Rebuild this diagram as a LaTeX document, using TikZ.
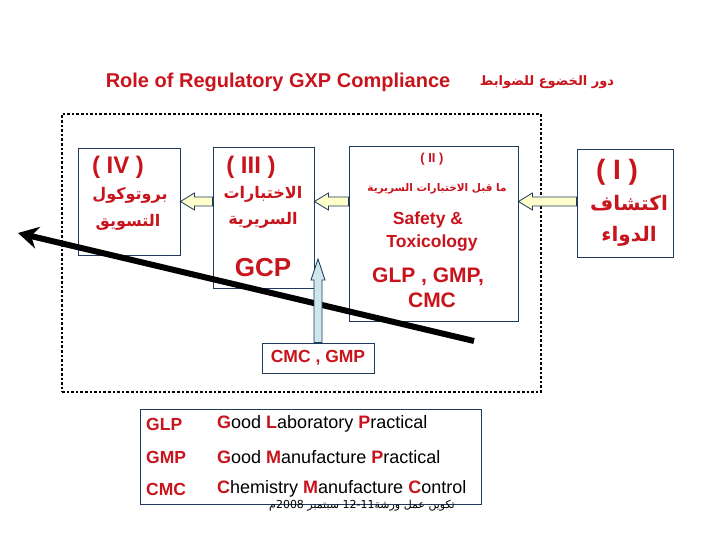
\documentclass[tikz,border=0pt]{standalone}
\usepackage{fontspec}
\setmainfont{Liberation Sans}
\newfontfamily\arabicfont[Script=Arabic]{DejaVu Sans}
\TeXXeTstate=1
\usepackage{tikz}
\usetikzlibrary{calc, arrows.meta}
\definecolor{gxpred}{HTML}{C8141C}
\definecolor{boxnavy}{HTML}{1F3A5C}
\definecolor{arrowyellow}{HTML}{FFFFCC}
\definecolor{arrowblue}{HTML}{CFE6EA}

\newcommand\artext[1]{{\arabicfont\bfseries\beginR #1\endR}}
\newcommand\ini[1]{\textcolor{gxpred}{\textbf{#1}}}
% style, from, tip, shaft half width, head half width, head length
\newcommand\blockarrow[6]{%
  \coordinate (ba-h) at ($(#3)!#6!(#2)$);
  \draw[#1] ($(#2)!#4!90:(#3)$) -- ($(ba-h)!#4!90:(#3)$) -- ($(ba-h)!#5!90:(#3)$) -- (#3)
    -- ($(ba-h)!#5!-90:(#3)$) -- ($(ba-h)!#4!-90:(#3)$) -- ($(#2)!#4!-90:(#3)$) -- cycle;}

\begin{document}
\begin{tikzpicture}[
    x=1pt, y=-1pt,
    box/.style={rectangle, draw=boxnavy, line width=0.9pt, fill=white, inner sep=0pt},
    frame/.style={rectangle, draw=black, line width=2.6pt, dash pattern=on 2.6pt off 2pt},
    lbl/.style={text=gxpred, inner sep=0pt, font=\bfseries},
    arlbl/.style={text=gxpred, inner sep=0pt},
    leg/.style={inner sep=0pt, anchor=west, font=\fontsize{18}{18}\selectfont},
    yarrow/.style={draw=boxnavy, fill=arrowyellow, line width=0.8pt},
    barrow/.style={draw=boxnavy, fill=arrowblue, line width=0.8pt},
    trend/.style={line width=6pt, draw=black, -{Stealth[length=20pt, width=22pt]}}
]
    \fill[white] (0,0) rectangle (720,540);
    \useasboundingbox (0,0) rectangle (720,540);

    % Title
    \node[lbl, font=\fontsize{20}{20}\selectfont\bfseries] (titleEn) at (278,82) {Role of Regulatory GXP Compliance};
    \node[arlbl, font=\fontsize{13}{13}\selectfont] (titleAr) at (547,82) {\artext{دور الخضوع للضوابط}};

    % Stages
    \node[frame, minimum width=479pt, minimum height=278pt] (stages) at (301.5,253) {};
    \node[box, minimum width=102pt, minimum height=107pt] (dIV) at (129,201.5) {};
    \node[box, minimum width=101pt, minimum height=141pt] (dIII) at (263.5,217.5) {};
    \node[box, minimum width=169pt, minimum height=175pt] (dII) at (433.5,233.5) {};
    \node[box, minimum width=96pt, minimum height=108pt] (dI) at (625,203) {};

    % Stage IV
    \node[lbl, font=\fontsize{24}{24}\selectfont\bfseries] (numIV) at (118,167) {( IV )};
    \node[arlbl, font=\fontsize{16}{16}\selectfont] (protoIV) at (130,195) {\artext{بروتوكول}};
    \node[arlbl, font=\fontsize{16}{16}\selectfont] (marketIV) at (128,222) {\artext{التسويق}};

    % Stage III
    \node[lbl, font=\fontsize{24}{24}\selectfont\bfseries] (numIII) at (251,167) {( III )};
    \node[arlbl, font=\fontsize{16}{16}\selectfont] (testsIII) at (263,194) {\artext{الاختبارات}};
    \node[arlbl, font=\fontsize{16}{16}\selectfont] (clinIII) at (263,220) {\artext{السريرية}};
    \node[lbl, font=\fontsize{26}{26}\selectfont\bfseries] (gcp) at (263,268) {GCP};

    % Stage II
    \node[lbl, font=\fontsize{13}{13}\selectfont\bfseries] (numII) at (432,159) {( II )};
    \node[arlbl, font=\fontsize{10.5}{10.5}\selectfont] (preII) at (437,189) {\artext{ما قبل الاختبارات السريرية}};
    \node[lbl, font=\fontsize{17.5}{17.5}\selectfont\bfseries] (safety) at (428,220) {Safety \&};
    \node[lbl, font=\fontsize{17.5}{17.5}\selectfont\bfseries] (toxic) at (432,243) {Toxicology};
    \node[lbl, font=\fontsize{21}{21}\selectfont\bfseries] (glpII) at (428,277) {GLP , GMP,};
    \node[lbl, font=\fontsize{21}{21}\selectfont\bfseries] (cmcII) at (432,300) {CMC};

    % Stage I
    \node[lbl, font=\fontsize{28}{28}\selectfont\bfseries] (numI) at (617,172) {( I )};
    \node[arlbl, font=\fontsize{20}{20}\selectfont] (discI) at (629,203) {\artext{اكتشاف}};
    \node[arlbl, font=\fontsize{20}{20}\selectfont] (drugI) at (629,236) {\artext{الدواء}};

    % CMC box
    \node[box, minimum width=112pt, minimum height=30pt, text=gxpred, font=\fontsize{17.5}{17.5}\selectfont\bfseries] (cmc) at (318,358) {CMC , GMP};

    % Legend
    \node[box, minimum width=341pt, minimum height=95pt] (legend) at (310.5,456.5) {};
    \node[leg, text=gxpred, font=\fontsize{17.5}{17.5}\selectfont\bfseries] (kGLP) at (146,424) {GLP};
    \node[leg, text=gxpred, font=\fontsize{17.5}{17.5}\selectfont\bfseries] (kGMP) at (146,457) {GMP};
    \node[leg, text=gxpred, font=\fontsize{17.5}{17.5}\selectfont\bfseries] (kCMC) at (146,489) {CMC};
    \node[leg] (vGLP) at (217,424) {\ini{G}ood \ini{L}aboratory \ini{P}ractical};
    \node[leg] (vGMP) at (217,457) {\ini{G}ood \ini{M}anufacture \ini{P}ractical};
    \node[leg] (vCMC) at (217,489) {\ini{C}hemistry \ini{M}anufacture \ini{C}ontrol};
    \node[inner sep=0pt, font=\arabicfont\fontsize{11}{11}\selectfont] (foot) at (362,506)
      {\beginR تكوين عمل ورشة\beginL 12-11\endL{} سبتمبر \beginL 2008\endL م\endR};

    % Connections
    \coordinate (fromI) at (dI.west |- dIV.east);
    \coordinate (toII) at (dII.east |- dIV.east);
    \coordinate (fromII) at (dII.west |- dIV.east);
    \coordinate (toIII) at (dIII.east |- dIV.east);
    \coordinate (fromIII) at (dIII.west |- dIV.east);
    \blockarrow{yarrow}{fromI}{toII}{4.5pt}{8.5pt}{14pt}
    \blockarrow{yarrow}{fromII}{toIII}{4.5pt}{8.5pt}{14pt}
    \blockarrow{yarrow}{fromIII}{dIV.east}{4.5pt}{8.5pt}{14pt}

    \coordinate (trendS) at (474,341);
    \coordinate (trendE) at (18,233);
    \draw[trend] (trendS) -- (trendE);

    \coordinate (upTip) at (318,259);
    \blockarrow{barrow}{cmc.north}{upTip}{4pt}{7pt}{21pt}
\end{tikzpicture}
\end{document}
